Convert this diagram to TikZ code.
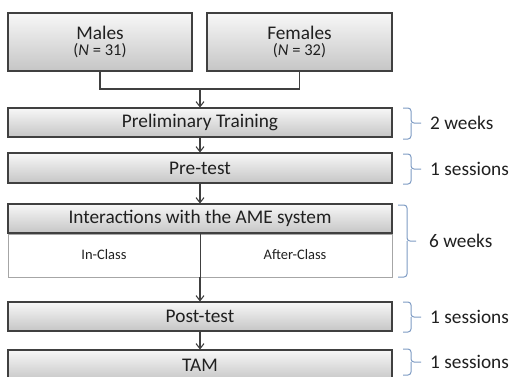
\documentclass[tikz,border=0pt]{standalone}
\usepackage{fontspec}
\setmainfont{Carlito}
\usetikzlibrary{arrows.meta}
\definecolor{boxline}{HTML}{404040}
\definecolor{txt}{HTML}{202020}
\definecolor{brk}{HTML}{7F9CC4}
\begin{document}
\begin{tikzpicture}[x=1pt,y=-1pt,
  box/.style={draw=boxline, line width=1.1pt, top color=gray!6, bottom color=gray!45,
    inner sep=0pt, minimum width=384pt, minimum height=29pt, text=txt,
    font=\fontsize{19.3}{22}\selectfont},
  small/.style={text=txt, font=\fontsize{14.5}{17}\selectfont, inner sep=0pt},
  lab/.style={text=txt, font=\fontsize{19.3}{22}\selectfont, anchor=west, inner sep=0pt},
  brace/.style={draw=brk, line width=1pt, rounded corners=3pt},
  conn/.style={draw=boxline, line width=1.1pt},
  arr/.style={conn, -{Straight Barb[length=5pt,width=8pt]}}
]
\clip (0,0) rectangle (514,376);
\fill[white] (0,0) rectangle (514,376);

% top boxes
\node[box, minimum width=184pt, minimum height=58pt, align=center] (males) at (100,42)
  {Males\\[-6pt]{\fontsize{16.5}{18}\selectfont(\textit{N} = 31)}};
\node[box, minimum width=185pt, minimum height=58pt, align=center] (females) at (299.5,42)
  {Females\\[-6pt]{\fontsize{16.5}{18}\selectfont(\textit{N} = 32)}};

% main column
\node[box] (prelim) at (200,122.5) {Preliminary Training};
\node[box, minimum height=30pt] (pre) at (200,168) {Pre-test};
\node[box] (inter) at (200,218.5) {Interactions with the AME system};
\node[draw=gray!70, line width=0.8pt, fill=white, minimum width=384pt, minimum height=43pt, inner sep=0pt, anchor=north] (interw) at (inter.south) {};
\node[small] (inclass) at (104,255) {In-Class};
\node[small] (afterclass) at (295,255) {After-Class};
\node[box] (post) at (200,316.5) {Post-test};
\node[box, minimum height=31pt] (tam) at (200,365.5) {TAM};

% connectors
\coordinate (join) at (200,89);
\draw[conn] (males.south) |- (join) -| (females.south);
\draw[arr] (join) -- (prelim.north);
\draw[arr] (prelim.south) -- (pre.north);
\draw[arr] (pre.south) -- (inter.north);
\draw[draw=boxline, line width=0.8pt] (interw.north) -- (interw.south);
\draw[arr] (interw.south) -- (post.north);
\draw[arr] (post.south) -- (tam.north);

% braces and durations
\draw[brace] (403,108) -| (411,123) -- (421,123);
\draw[brace] (403,139) -| (411,123);
\node[lab] (d1) at (430,123) {2 weeks};

\draw[brace] (403,154) -| (411,169) -- (421,169);
\draw[brace] (403,184) -| (411,169);
\node[lab] (d2) at (430,169) {1 sessions};

\draw[brace] (398,205) -| (407,241) -- (416,241);
\draw[brace] (398,277) -| (407,241);
\node[lab] (d3) at (429,241) {6 weeks};

\draw[brace] (403,302) -| (411,317) -- (421,317);
\draw[brace] (403,332) -| (411,317);
\node[lab] (d4) at (430,317) {1 sessions};

\draw[brace] (403,349) -| (411,362) -- (421,362);
\draw[brace] (403,375) -| (411,362);
\node[lab] (d5) at (430,362) {1 sessions};
\end{tikzpicture}
\end{document}
